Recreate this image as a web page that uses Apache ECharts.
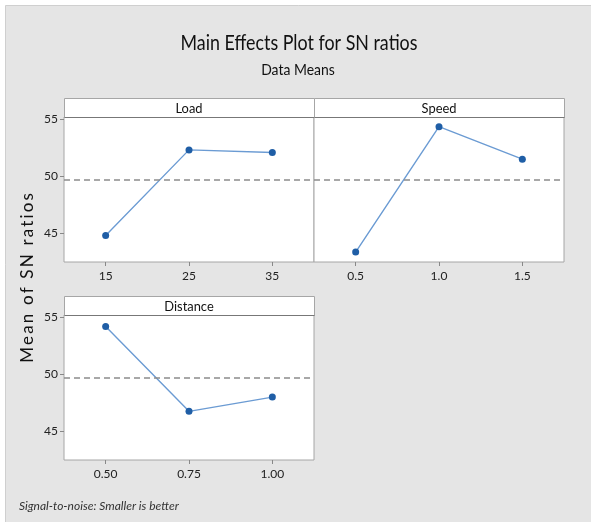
<!DOCTYPE html>
<html>
<head>
<meta charset="utf-8">
<style>
  html, body { margin: 0; padding: 0; background: #ffffff; }
  #chart { width: 591px; height: 522px; }
</style>
<script src="https://cdn.jsdelivr.net/npm/echarts@6/dist/echarts.min.js"></script>
</head>
<body>
<div id="chart"></div>
<script>
// Factor levels (tick labels) and mean SN ratios per level
const loadLevels = ['15', '25', '35'];
const loadMeans = [44.83, 52.32, 52.09];
const speedLevels = ['0.5', '1.0', '1.5'];
const speedMeans = [43.37, 54.35, 51.51];
const distanceLevels = ['0.50', '0.75', '1.00'];
const distanceMeans = [54.19, 46.76, 48.01];
const panelTitles = ['Load', 'Speed', 'Distance'];
const yTicks = [45, 50, 55];
// Overall mean of the SN ratios (reference line)
const grandMean = 49.68;

const FONT = 'Lato, "Open Sans", sans-serif';
const BORDER = '#a6a6a6';
const LINE = '#6b9bd3';
const DOT = '#1f5ea6';

const panels = [
  { levels: loadLevels, means: loadMeans, left: 64, top: 117, showY: true },
  { levels: speedLevels, means: speedMeans, left: 314, top: 117, showY: false },
  { levels: distanceLevels, means: distanceMeans, left: 64, top: 315, showY: true }
];
const PW = 250, PH = 145, STRIP = 19;

const chart = echarts.init(document.getElementById('chart'), null, { renderer: 'canvas' });

const grids = [], xAxes = [], yAxes = [], series = [], graphics = [];

// Page background with thin frame
graphics.push({
  type: 'rect', x: 5.5, y: 5.5, z: -10,
  shape: { width: 600, height: 600 },
  style: { fill: '#e5e5e5', stroke: '#cfcfcf', lineWidth: 1 }
});

panels.forEach((p, i) => {
  grids.push({
    left: p.left, top: p.top, width: PW, height: PH,
    show: true, backgroundColor: '#ffffff', borderColor: BORDER, borderWidth: 1
  });
  xAxes.push({
    type: 'category', gridIndex: i, data: p.levels, boundaryGap: true,
    axisLine: { show: false },
    axisTick: { show: true, alignWithLabel: true, length: 4, lineStyle: { color: '#888' } },
    axisLabel: { color: '#222', fontFamily: FONT, fontSize: 12, margin: 8 },
    splitLine: { show: false }
  });
  yAxes.push({
    type: 'value', gridIndex: i, min: 42.5, max: 55.2,
    axisLine: { show: false },
    axisTick: { show: p.showY, length: 4, customValues: yTicks, lineStyle: { color: '#888' } },
    axisLabel: { show: p.showY, customValues: yTicks, color: '#222', fontFamily: FONT, fontSize: 12, margin: 6 },
    splitLine: { show: false }
  });
  series.push({
    type: 'line', xAxisIndex: i, yAxisIndex: i, data: p.means,
    symbol: 'circle', symbolSize: 7,
    lineStyle: { color: LINE, width: 1.4 },
    itemStyle: { color: DOT },
    markLine: {
      silent: true, symbol: 'none', label: { show: false },
      lineStyle: { color: '#8c8c8c', type: [6, 4], width: 1.5 },
      data: [{ yAxis: grandMean }]
    }
  });
  // Panel header strip
  graphics.push({
    type: 'group', x: p.left, y: p.top - STRIP,
    children: [
      { type: 'rect', shape: { x: 0.5, y: 0.5, width: PW, height: STRIP },
        style: { fill: '#ffffff', stroke: BORDER, lineWidth: 1 } },
      { type: 'line', shape: { x1: 0.5, y1: STRIP + 0.5, x2: PW + 0.5, y2: STRIP + 0.5 },
        style: { stroke: '#777', lineWidth: 1 } },
      { type: 'text', x: PW / 2, y: STRIP / 2 + 0.5, scaleX: 0.92,
        style: { text: panelTitles[i], fill: '#111', font: '14px ' + FONT,
                 align: 'center', verticalAlign: 'middle' } }
    ]
  });
});

// Titles, axis caption and footnote
graphics.push(
  { type: 'text', x: 299, y: 43, scaleX: 0.85,
    style: { text: 'Main Effects Plot for SN ratios', fill: '#111', font: '21px ' + FONT,
             align: 'center', verticalAlign: 'middle' } },
  { type: 'text', x: 298, y: 70, scaleX: 0.93,
    style: { text: 'Data Means', fill: '#111', font: '15px ' + FONT,
             align: 'center', verticalAlign: 'middle' } },
  { type: 'text', x: 28, y: 278, rotation: Math.PI / 2,
    style: { text: 'M\u2009e\u2009a\u2009n  o\u2009f  S\u2009N  r\u2009a\u2009t\u2009i\u2009o\u2009s', fill: '#111', font: '17px ' + FONT,
             align: 'center', verticalAlign: 'middle' } },
  { type: 'text', x: 19, y: 506,
    style: { text: 'Signal-to-noise: Smaller is better', fill: '#333', font: 'italic 12px ' + FONT,
             align: 'left', verticalAlign: 'middle' } }
);

chart.setOption({
  animation: false,
  grid: grids,
  xAxis: xAxes,
  yAxis: yAxes,
  series: series,
  graphic: graphics
});
</script>
</body>
</html>
